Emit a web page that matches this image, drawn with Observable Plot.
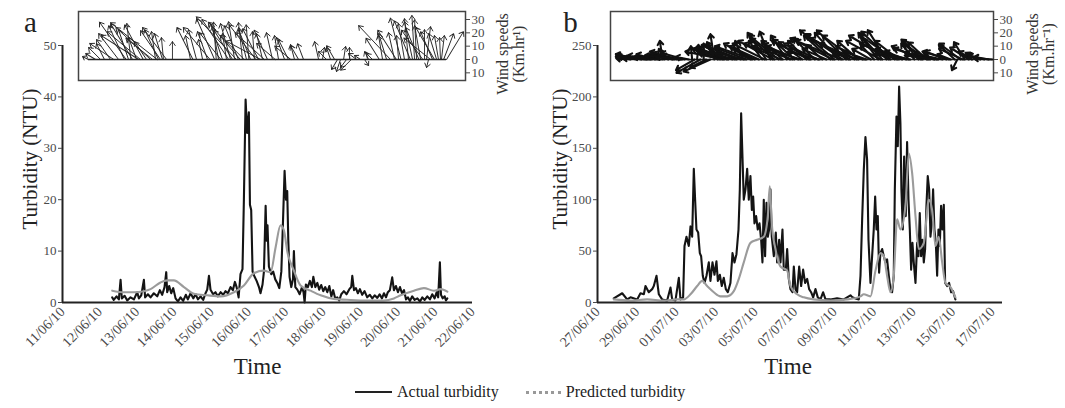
<!DOCTYPE html>
<html><head><meta charset="utf-8">
<script src="https://cdn.jsdelivr.net/npm/d3@7"></script>
<script src="https://cdn.jsdelivr.net/npm/@observablehq/plot@0.6"></script>
<style>
html,body{margin:0;padding:0;background:#fff;}
#root{position:relative;width:1065px;height:408px;overflow:hidden;font-family:"Liberation Serif",serif;}
.layer{position:absolute;top:0;}
.layer svg{max-width:none !important;overflow:visible;display:block;}
#legend{position:absolute;left:355px;top:383px;display:flex;align-items:center;font-size:16px;color:#222;white-space:nowrap;}
#legend .sw{display:inline-block;width:37px;height:0;margin-right:5px;}
</style></head>
<body><div id="root"></div>
<script>
// ---------- Panel a: turbidity (hours since 11/06/2010 00:00) ----------
const aActualHours = [32,33,34.8,36.3,37.4,38.2,40,41.7,43.8,46,48.1,49.2,50.7,52.4,53.2,55,56.7,58.8,61,62.7,64.2,65.7,66.8,67.4,68.7,70,71.3,72.8,74.3,76,77.7,79.4,80.7,82.5,84.2,85.7,87.2,88.9,90.6,92.1,93.2,94.3,95.3,97,98.5,100,101.8,103.5,105,106.5,108.2,109.7,111,112.1,113.4,114.6,115.9,116.8,117.9,118.9,120,120.7,121.5,122.4,123.7,125,126.5,127.5,128.8,129.7,130.8,131.4,132,132.9,134.4,135.7,137,138.3,139.6,140.9,141.9,143,143.9,144.7,145.4,146.2,147.3,148.4,149,149.9,151.2,152.7,154.2,155.2,155.9,156.7,158,159.3,160.6,161.5,162.8,164.1,165.3,166.6,167.9,169.2,170.5,171.8,173.1,174.3,175.6,176.9,178.2,179.5,181.2,182.9,184.7,185.9,186.6,187.7,188.9,190.2,191.5,193,194.5,196.2,197.9,199.5,201,202.7,204.2,205.7,207,208.3,209.5,210.8,212.3,213.4,214.7,216,217.3,218.6,219.9,221.2,222.4,223.7,225.2,226.7,228.5,230.2,231.7,233.2,234.9,236.6,238.1,239.6,240.9,241.9,243,243.7,244.8,246.1,246.9,247.8];
const aActualNTU = [1.0,0.5,1.2,0.6,4.4,0.8,1.3,0.4,1.0,0.6,2.0,0.8,1.4,4.4,1.0,1.6,1.0,1.8,1.2,2.4,1.5,3.0,5.9,2.0,3.2,1.8,2.8,0.8,0.2,1.0,0.3,1.5,0.6,1.8,0.8,1.6,0.6,1.2,0.5,1.8,2.5,5.2,2.5,1.6,2.0,1.2,2.0,1.5,2.2,1.8,3.0,2.4,4.0,3.0,1.0,5.5,6.5,20.0,39.5,33.0,37.0,19.0,18.0,6.0,5.0,4.2,3.0,1.8,3.5,6.0,18.8,12.0,15.0,7.0,5.5,6.0,4.5,3.8,2.8,6.0,15.0,25.6,20.0,21.7,12.0,5.0,3.0,4.5,10.0,3.0,2.5,1.6,3.0,2.0,0.0,3.5,3.0,4.2,3.0,5.0,3.0,3.8,2.5,3.4,2.2,3.0,2.0,3.2,1.2,2.4,0.8,1.0,0.4,1.6,2.2,1.6,2.6,3.0,5.2,2.4,2.8,1.8,2.6,1.5,2.2,1.0,1.5,0.8,1.4,0.9,1.6,0.8,1.8,1.0,2.0,2.4,4.9,2.4,3.2,2.0,3.0,1.8,2.4,0.6,1.0,0.3,1.2,0.5,0.8,0.2,1.0,0.5,1.2,0.6,1.6,0.8,2.0,1.0,7.8,1.5,0.8,1.2,0.4,0.8];
const aPredHours = [32,39.5,46,52.4,56.7,63.1,67.4,71.7,78.2,84.6,93.2,101.8,110.4,116.8,123.2,129.7,134,137.2,140.4,142.6,144.7,149,153.3,159.7,166.2,174.8,185.5,196.2,207,213.4,217.7,226.3,232.7,239.2,243.5,247.8];
const aPredNTU = [2.3,2.0,2.0,2.2,2.6,3.9,4.3,4.3,3.0,1.7,1.4,1.2,2.0,3.3,5.7,6.2,5.9,10.7,15.0,14.0,10.0,6.2,3.3,2.3,1.4,0.7,0.5,0.4,0.4,0.8,1.4,2.3,2.8,2.3,2.6,2.1];
// wind (km/h): hours since 11/06/2010, east (u) and north (v) components
const aWindHours = [16.7,21.3,24.5,27.0,30.9,36.1,39.9,42.5,45.1,47.7,50.2,54.1,56.7,59.9,61.0,61.8,63.1,64.4,65.0,70.8,82.4,86.3,90.2,93.4,97.9,100.5,103.0,105.6,108.2,110.8,112.0,113.3,115.9,118.5,121.1,123.6,126.2,128.8,130.0,135.2,139.1,143.0,145.5,149.4,152.0,155.2,164.9,167.4,172.6,175.2,177.1,179.0,181.0,182.9,184.8,189.3,191.9,194.5,197.1,199.6,206.1,208.7,211.2,213.8,216.4,220.2,222.8,225.4,228.0,230.6,233.1,234.4,235.7,238.3,240.9,242.1,243.4,244.0,245.4,247.3,
  33.0,41.0,44.0,49.0,52.0,58.0,67.0,84.0,95.0,99.0,102.0,107.0,109.5,114.5,117.0,120.0,124.5,127.5,132.0,137.0,147.0,170.0,186.0,204.0,215.0,218.0,224.0,226.7,229.5,232.0,237.0,239.5];
const aWindU = [-4.5,-7.5,-9.0,-6.0,-10.4,-14.9,-11.9,-7.5,-16.4,-6.0,-25,-9.0,-26,-3.0,-35,-10.4,-14.9,-6.0,-1.5,0,-3.7,-6.0,-3.0,-7.5,-13.4,-4.5,-9.0,-3.0,-7.5,-4.5,-30,-10.4,-3.0,-6.0,-9.0,-1.5,-11.9,-4.5,-22,-4.5,-3.0,-6.0,-7.5,-3.0,-6.0,-4.5,-3.0,1.5,-3.0,-6.0,-4.5,-3.0,1.5,-4.5,0,-6.0,-4.5,3.0,-3.0,-4.5,-3.0,-6.0,-23.9,-4.5,-1.5,-4.5,-3.0,-6.0,-1.5,-4.5,0,3.0,-1.5,-9.0,-6.0,-3.0,-0.7,2.2,7.5,12.7,
  -18,-20,-3,-28,-14,-20,-18,-12,-20,-2,-16,-20,-14,-24,-18,-2,-20,-26,-10,-14,-12,-6,-8,-10,-14,-8,-12,-2,-10,-16,-20,-14];
const aWindV = [2.2,4.5,9.0,11.9,14.9,19.4,25.4,22.4,26.9,16.4,20.9,13.4,24,20.9,27.6,22.4,21.6,19.4,16.4,13.4,17.9,22.4,14.9,20.9,30.6,24.6,26.9,19.4,26.9,28.3,32,25.4,27.6,23.9,22.4,20.9,23.1,19.4,20,20.1,17.9,16.4,14.9,11.2,10.4,11.9,13.4,9.0,9.0,10.4,-7.5,-9.0,9.7,-6.0,9.0,4.5,3.0,-4.5,6.0,4.5,17.9,19.4,25.4,20.1,17.9,26.9,30.6,28.3,29.8,25.4,22.4,24.6,-6.0,20.9,19.4,17.9,16.4,17.9,19.4,20.9,
  12,28,27,18,26,16,24,24,24,28,20,30,22,28,18,26,26,14,22,12,10,6,-8,16,22,31,29,33,24,22,16,24];

// ---------- Panel b: turbidity (hours since 27/06/2010 00:00) ----------
const bActualHours = [19.8,30.0,36.0,40.1,48.2,52.2,56.3,58.3,62.3,66.4,68.4,71.7,74.5,78.5,84.6,88.7,90.7,94.7,98.8,100.8,104.0,105.7,108.1,110.9,113.0,115.0,117.0,118.6,120.2,122.3,124.3,125.9,127.9,130.0,132.4,135.2,137.2,139.7,142.1,144.5,146.2,148.6,151.0,153.4,155.9,158.3,161.5,164.0,166.4,168.8,171.3,172.9,174.5,176.1,177.7,179.8,181.8,183.8,185.8,187.5,189.1,190.7,192.7,194.7,196.8,198.8,200.4,202.0,203.6,205.3,206.9,208.5,210.1,211.7,214.2,216.6,218.2,220.7,222.3,224.7,226.3,228.8,230.4,232.4,234.4,236.9,238.5,240.5,242.5,245.0,247.4,249.8,252.2,254.7,257.1,259.5,262.0,264.8,267.6,270.9,274.1,277.0,283.0,291.1,299.2,307.3,309.7,313.4,317.4,319.5,321.5,323.5,325.5,327.5,329.2,331.6,333.6,335.6,337.3,338.9,340.5,342.1,343.7,345.8,347.8,349.8,351.8,353.9,355.9,357.9,359.9,361.2,363.2,364.8,366.4,368.0,369.2,370.9,372.5,374.5,376.1,377.8,379.4,381.0,382.6,384.2,386.3,388.3,389.9,391.5,393.1,394.8,396.4,398.0,399.6,401.2,402.9,404.5,406.1,407.7,409.3,411.0,412.6,414.2,415.8,417.4,419.0,420.7,422.3,424.7,427.1,429.6,432.0,434.8];
const bActualNTU = [4,9,3,5,3,9,8,16,10,13,16,26,8,3,2,14.5,3,2,24,3,5,55,64,55,74,64,130,100,71,68,48,45,26,19,26,39,21,39,27,40,21,27,16,24,13,10,19,48,39,47,71,110,184,142,100,110,130,100,123,90,103,77,84,71,77,61,39,100,45,97,64,71,110,64,45,68,39,61,39,71,32,32,52,23,13,10,35,13,10,35,16,32,19,23,13,10,5,13,5,3,10,3,3,4,3,7,5,4,3,26,81,129,161,139,61,19,45,71,103,71,84,29,48,52,45,39,42,26,13,10,26,110,181,152,210,174,110,71,142,84,156,100,71,32,58,39,19,58,45,87,45,61,39,52,94,123,110,64,77,110,71,58,26,71,55,94,71,95,19,16,19,10,11,3];
const bPredHours = [19.8,40.1,60.3,80.6,96.8,104.9,113.0,121.1,127.1,133.2,141.3,149.4,157.5,165.6,171.7,177.7,185.8,193.9,202.0,206.9,209.3,211.7,216.2,222.3,230.4,234.4,242.5,250.6,262.8,283.0,303.3,319.5,323.5,331.6,337.7,343.7,347.8,351.8,355.9,359.9,364.0,368.0,374.1,378.2,382.2,386.3,390.3,396.4,402.5,406.5,410.6,414.6,418.7,422.7,428.8,434.8];
const bPredNTU = [3,2,3,2,3,3,8,16,21,16,10,6,6,11,23,39,58,61,64,84,113,77,52,35,31,16,8,5,3,2,3,6,8,6,31,48,45,26,10,26,81,71,94,145,126,84,52,58,100,90,55,64,39,19,15,5];
// wind (km/h): hours since 27/06/2010
const bWindHours = [34,40,47,53,60,66,70,77,79,81,86,91,96,101,106,111,115,118,121,125,129,132,137,142,146,149,154,159,164,169,174,177,181,186,191,196,200,205,210,215,220,225,230,234,239,244,249,254,259,264,268,273,278,283,288,293,298,302,307,312,317,322,327,332,336,341,346,351,356,361,366,370,375,380,385,390,395,400,404,409,414,419,424,429,434,437,441,446,451,455,460,465,470,475,480,
  152,157,167,179,188,203,213,223,237,247,257,270,286,296,305,315,325,344,354,364,378,393,402,412,427,444,63,73,93,103];
const bWindU = [-7,-11,-15,-19,-22,-18,-14,-10,-2,-4,-12,-16,-20,-14,-18,-10,-1,-14,1,-18,0,-12,-20,-3,-8,-16,-24,-20,-26,-22,-18,-6,-24,-20,-16,-22,-10,-14,-8,-18,-22,-16,-12,-20,-16,-24,-18,-14,-20,-16,-22,-12,-18,-20,-26,-18,-28,-22,-30,-24,-16,-20,-18,-14,-10,-12,-18,-14,-22,-26,-18,-20,-16,-22,-10,-12,-16,-14,-20,-22,-18,-14,-16,-10,-12,-4,-16,-8,-14,-10,-8,-10,-12,-11,-14,
  -28,-22,-30,-26,-28,-24,-26,-28,-30,-26,-28,-24,-32,-34,-32,-28,-24,-26,-30,-28,-26,-22,-26,-24,-20,-18,-20,-18,-22,-20];
const bWindV = [1,2,3,4,2,3,4,3,14,8,5,4,6,3,5,2,10,-8,11,-10,12,-6,-9,19,13,5,8,11,6,10,7,14,9,12,8,10,14,20,21,16,18,14,18,12,15,10,13,14,12,16,10,11,8,18,22,20,19,22,16,18,14,10,6,8,11,16,20,22,21,18,14,8,6,5,12,14,15,13,11,5,4,3,6,4,11,-8,12,13,9,6,5,4,3,2,1,
  6,9,8,6,10,12,14,12,10,8,14,6,16,14,18,12,4,14,18,12,4,10,8,3,6,8,1,2,3,2];

// ---------- axes / labels ----------
const aTickDates = ["2010-06-11","2010-06-12","2010-06-13","2010-06-14","2010-06-15","2010-06-16","2010-06-17","2010-06-18","2010-06-19","2010-06-20","2010-06-21","2010-06-22"];
const bTickDates = ["2010-06-27","2010-06-29","2010-07-01","2010-07-03","2010-07-05","2010-07-07","2010-07-09","2010-07-11","2010-07-13","2010-07-15","2010-07-17"];
const aYTicks = [0,10,20,30,40,50];
const bYTicks = [0,50,100,150,200,250];
const windTicks = [-10,0,10,20,30];

// ---------- helpers ----------
const aStart = new Date(Date.UTC(2010,5,11));
const bStart = new Date(Date.UTC(2010,5,27));
const at = (base, h) => new Date(base.getTime() + h * 3600e3);
const zip = (base, hs, vs) => hs.map((h, i) => ({t: at(base, h), v: vs[i]}));
const fmt = d3.utcFormat("%d/%m/%y");
const serif = "'Liberation Serif', 'Times New Roman', serif";

const arrowShape = {
  draw(context, l) {
    const w = Math.min(2.8, l / 3);
    context.moveTo(0, 0);
    context.lineTo(0, -l);
    context.moveTo(-w, w * 1.4 - l);
    context.lineTo(0, -l);
    context.lineTo(w, w * 1.4 - l);
  }
};

function mainPlot(o) {
  const x0 = o.xDomain[0];
  return Plot.plot({
    width: o.width, height: 390,
    marginLeft: o.marginLeft, marginRight: o.marginRight, marginTop: 45, marginBottom: 88,
    style: {fontFamily: serif, fontSize: "13px", background: "transparent", overflow: "visible"},
    x: {type: "utc", domain: o.xDomain},
    y: {domain: o.yDomain},
    marks: [
      Plot.line(o.actual, {x: "t", y: "v", stroke: "#141414", strokeWidth: 2.1}),
      Plot.line(o.pred, {x: "t", y: "v", stroke: "#9b9b9b", strokeWidth: 2.1, curve: "monotone-x"}),
      Plot.ruleX([x0], {stroke: "#222", strokeWidth: 2}),
      Plot.ruleY([0], {stroke: "#222", strokeWidth: 2}),
      Plot.axisY({ticks: o.yTicks, tickSize: 4, tickPadding: 2, color: "#4a4a4a", fontSize: 13, label: null}),
      Plot.axisX({ticks: o.xTicks, tickFormat: fmt, tickRotate: -45, tickSize: 0, tickPadding: 7, color: "#4a4a4a", fontSize: 14, label: null}),
      Plot.text(["Turbidity (NTU)"], {frameAnchor: "left", textAnchor: "middle", lineAnchor: "middle", rotate: -90, dx: o.ylabDx, dy: -15, fontSize: 21, fill: "#222"}),
      Plot.text(["Time"], {frameAnchor: "bottom", textAnchor: "middle", lineAnchor: "middle", dx: o.timeDx, dy: 64, fontSize: 23, fill: "#222"}),
      Plot.text([o.letter], {frameAnchor: "top-left", textAnchor: "middle", lineAnchor: "middle", dx: o.letterDx, dy: -23, fontSize: 29, fill: "#222"})
    ]
  });
}

function insetPlot(o) {
  const data = o.hours.map((h, i) => ({t: at(o.base, h), u: o.U[i], v: o.V[i]}));
  const first = d3.min(data, d => d.t), last = d3.max(data, d => d.t);
  return Plot.plot({
    width: o.width, height: 90,
    marginLeft: o.marginLeft, marginRight: o.marginRight, marginTop: 11, marginBottom: 10,
    style: {fontFamily: serif, fontSize: "12px", background: "transparent", overflow: "visible"},
    x: {type: "utc", domain: o.xDomain, axis: null},
    y: {domain: [-15.75, 36], axis: null},
    length: {domain: [0, 10], range: [0, 13.33]},
    marks: [
      Plot.frame({fill: "white", stroke: "#444", strokeWidth: 1.5}),
      Plot.ruleY([0], {x1: () => first, x2: () => last, stroke: "#222", strokeWidth: 1.4}),
      Plot.vector(data, {
        x: "t", y: () => 0,
        length: d => Math.hypot(d.u, d.v),
        rotate: d => Math.atan2(d.u, d.v) * 180 / Math.PI,
        anchor: "start", shape: arrowShape,
        stroke: o.stroke, strokeWidth: o.strokeWidth
      }),
      Plot.axisY({anchor: "right", ticks: windTicks, tickFormat: d => String(Math.abs(d)), tickSize: 4, tickPadding: 2, color: "#4a4a4a", fontSize: 13, label: null}),
      Plot.text(["Wind speeds"], {frameAnchor: "right", textAnchor: "middle", lineAnchor: "middle", rotate: -90, dx: o.labDx, dy: 8, fontSize: 16, fill: "#333"}),
      Plot.text([o.unit], {frameAnchor: "right", textAnchor: "middle", lineAnchor: "middle", rotate: -90, dx: o.labDx + 16, dy: 8, fontSize: 16, fill: "#333"})
    ]
  });
}

function place(el, left) {
  const d = document.createElement("div");
  d.className = "layer";
  d.style.left = left + "px";
  d.appendChild(el);
  document.getElementById("root").appendChild(d);
}

place(mainPlot({
  width: 530, marginLeft: 62, marginRight: 58,
  xDomain: [aStart, new Date(Date.UTC(2010,5,22))],
  xTicks: aTickDates.map(s => new Date(s + "T00:00Z")),
  yDomain: [0, 50], yTicks: aYTicks,
  actual: zip(aStart, aActualHours, aActualNTU),
  pred: zip(aStart, aPredHours, aPredNTU),
  letter: "a", letterDx: -32, ylabDx: -32, timeDx: -10
}), 0);

place(mainPlot({
  width: 535, marginLeft: 67, marginRight: 63,
  xDomain: [bStart, new Date(Date.UTC(2010,6,17,12))],
  xTicks: bTickDates.map(s => new Date(s + "T00:00Z")),
  yDomain: [0, 250], yTicks: bYTicks,
  actual: zip(bStart, bActualHours, bActualNTU),
  pred: zip(bStart, bPredHours, bPredNTU),
  letter: "b", letterDx: -27, ylabDx: -37, timeDx: -12
}), 530);

place(insetPlot({
  width: 470, marginLeft: 8, marginRight: 75,
  base: aStart, xDomain: [at(aStart, 10.3), at(aStart, 259.5)],
  hours: aWindHours, U: aWindU, V: aWindV, strokeWidth: 0.9, stroke: "#262626",
  unit: "(Km.hr\u00B9)", labDx: 37
}), 70);

place(insetPlot({
  width: 465, marginLeft: 10, marginRight: 72,
  base: bStart, xDomain: [at(bStart, 15.8), at(bStart, 481)],
  hours: bWindHours, U: bWindU, V: bWindV, strokeWidth: 2.1, stroke: "#111",
  unit: "(Km.hr\u207B\u00B9)", labDx: 39
}), 600);

const lg = document.createElement("div");
lg.id = "legend";
lg.innerHTML = '<span class="sw" style="border-top:2px solid #222"></span><span>Actual turbidity</span>' +
  '<span class="sw" style="border-top:3px dotted #999;margin-left:27px;width:35px"></span><span>Predicted turbidity</span>';
document.getElementById("root").appendChild(lg);
</script></body></html>
